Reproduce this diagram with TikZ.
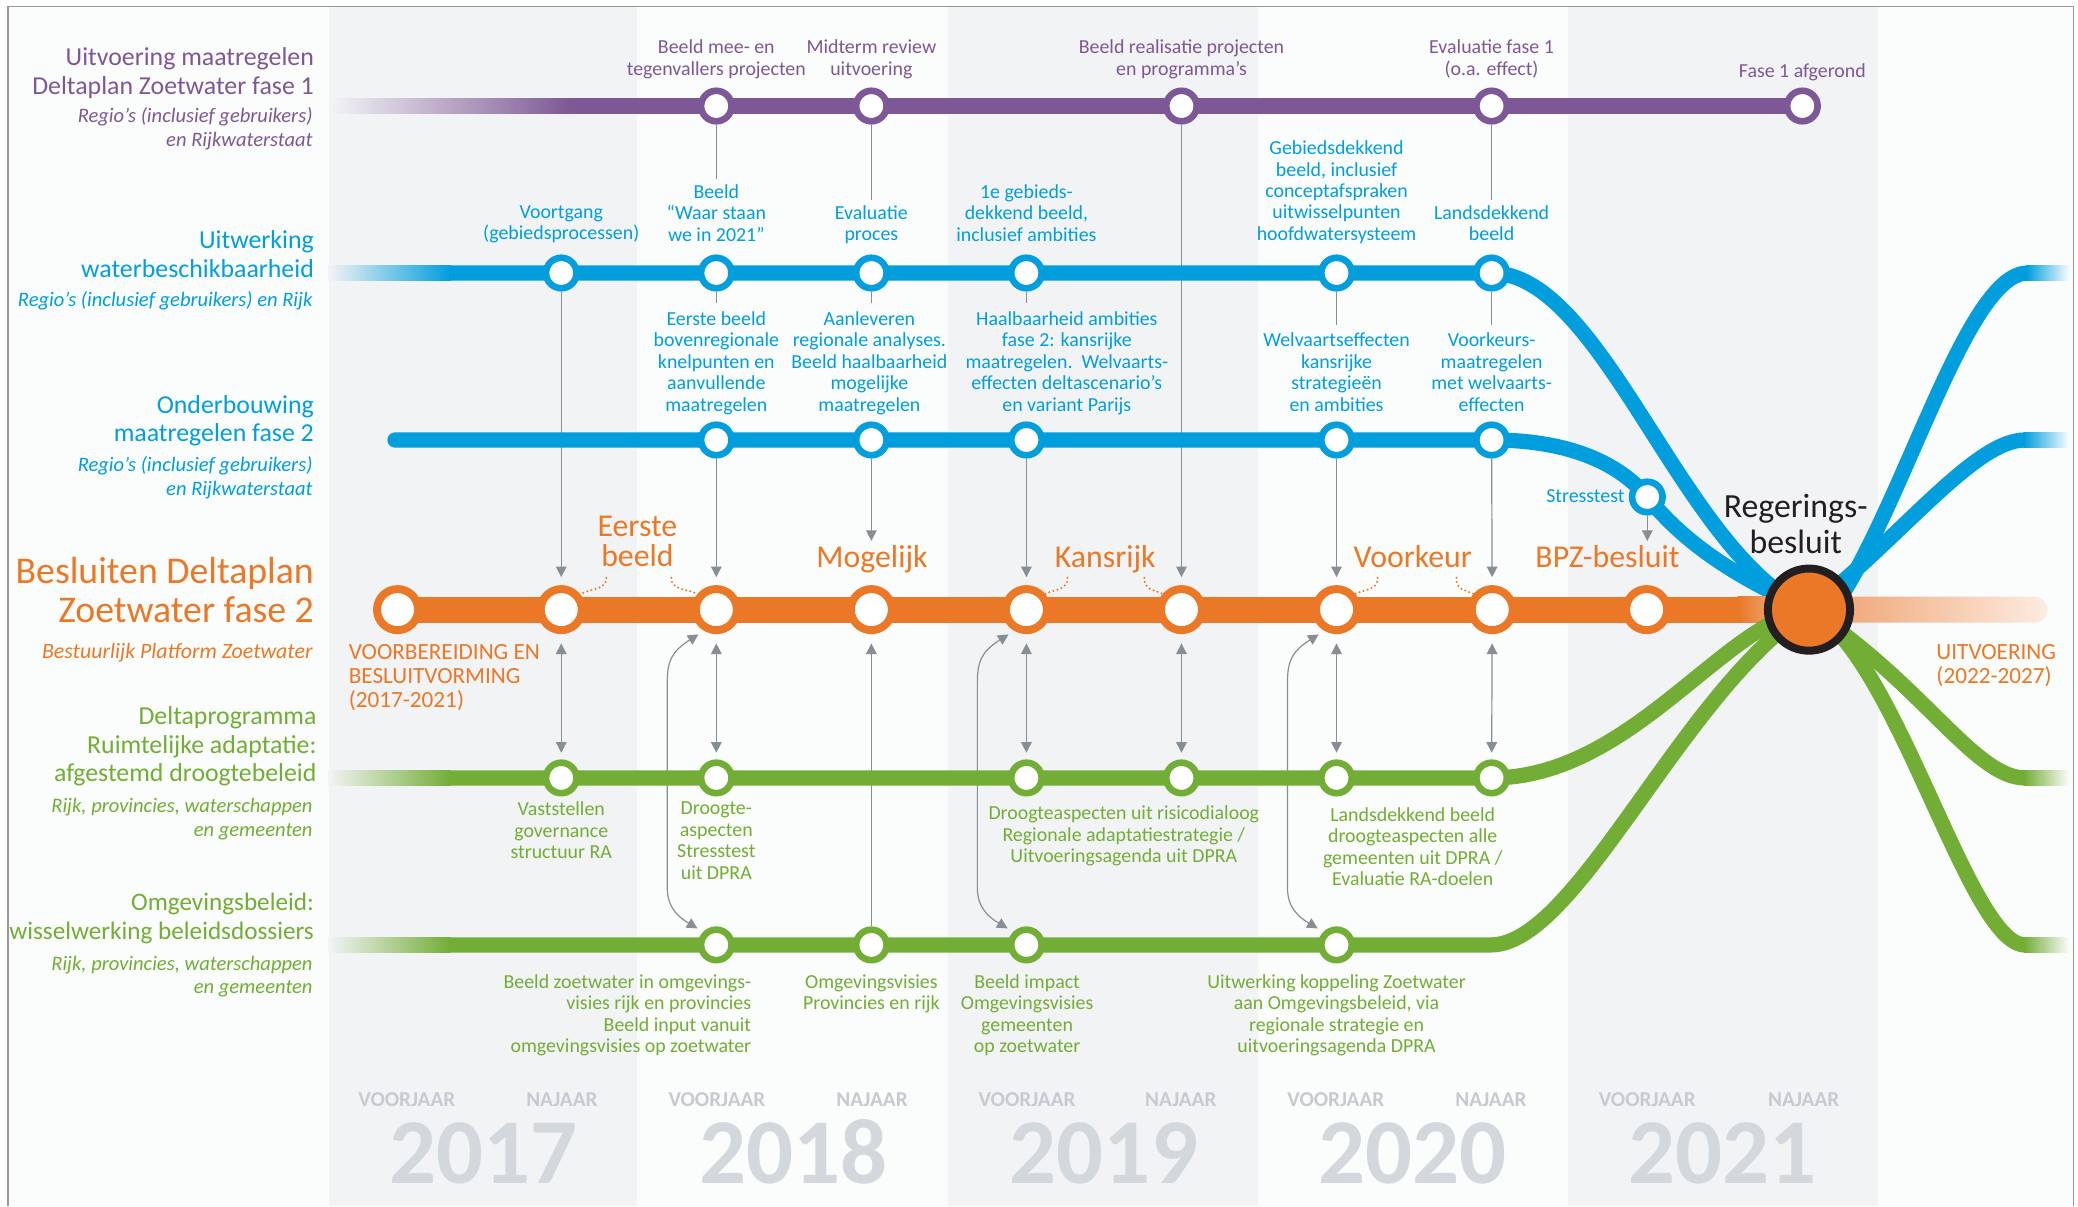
\documentclass[tikz,border=0pt]{standalone}
\usepackage{fontspec}
\setmainfont{Carlito}
\usepackage{tikz}
\usetikzlibrary{arrows.meta, calc, positioning}
\definecolor{dzpurple}{RGB}{126,88,150}
\definecolor{dzblue}{RGB}{0,158,220}
\definecolor{dzorange}{RGB}{234,120,38}
\definecolor{dzgreen}{RGB}{114,173,54}
\definecolor{dzgrey}{RGB}{135,142,148}
\definecolor{colgrey}{RGB}{242,243,245}
\definecolor{colwhite}{RGB}{251,252,252}
\definecolor{yeargrey}{RGB}{211,216,220}
\definecolor{halfgrey}{RGB}{197,203,208}
\definecolor{framegrey}{RGB}{150,152,154}
\definecolor{ink}{RGB}{35,31,32}
\definecolor{peach}{RGB}{240,166,118}
\definecolor{peachlight}{RGB}{252,236,225}
\pgfdeclarelayer{bg}
\pgfdeclarelayer{links}
\pgfdeclarelayer{rails}
\pgfsetlayers{bg,links,rails,main}

\begin{document}
\begin{tikzpicture}[x=1pt, y=-1pt,
  station/.style={circle, fill=white, line width=5pt, minimum size=23pt, inner sep=0pt},
  pst/.style={station, draw=dzpurple},
  bst/.style={station, draw=dzblue},
  gst/.style={station, draw=dzgreen},
  ost/.style={circle, fill=white, draw=dzorange, line width=6pt, minimum size=31pt, inner sep=0pt},
  rail/.style={line width=11.5pt},
  orail/.style={line width=19.5pt},
  link/.style={draw=dzgrey, line width=0.9pt},
  arr/.style={-{Triangle[width=8pt,length=8pt]}},
  twoway/.style={{Triangle[width=8pt,length=8pt]}-{Triangle[width=8pt,length=8pt]}},
  dotlink/.style={dzorange, line width=1.7pt, dash pattern=on 0pt off 3.2pt, line cap=round},
  lbl/.style={font=\fontsize{15}{16.2}\selectfont, align=center, inner sep=0pt, anchor=north},
  big/.style={font=\fontsize{24}{23}\selectfont, text=dzorange, inner sep=0pt},
  phase/.style={font=\fontsize{17.5}{18}\selectfont, text=dzorange, align=left, inner sep=0pt, anchor=north west},
  headline/.style={font=\fontsize{19.5}{21.5}\selectfont, align=right, inner sep=0pt, anchor=north east},
  subline/.style={font=\itshape\fontsize{15.5}{18}\selectfont, align=right, inner sep=0pt, anchor=north east},
  halfyear/.style={font=\bfseries\fontsize{16}{16}\selectfont, text=halfgrey, inner sep=0pt, anchor=base},
  yearnr/.style={font=\bfseries\fontsize{70}{70}\selectfont, text=yeargrey, inner sep=0pt, anchor=base}
]

\begin{pgfonlayer}{bg}
\fill[white] (0,0) rectangle (1568,910);
\fill[colwhite] (6,5) rectangle (1564.5,910);
\fill[colgrey] (248,5) rectangle (481,910);
\fill[colgrey] (715,5) rectangle (949,910);
\fill[colgrey] (1183,5) rectangle (1417,910);
\draw[framegrey, line width=1pt] (6,910) -- (6,5) -- (1564.5,5) -- (1564.5,910);
\end{pgfonlayer}

% stations
\node[pst] (p1) at (540.5,80) {};
\node[pst] (p2) at (657.5,80) {};
\node[pst] (p3) at (891.5,80) {};
\node[pst] (p4) at (1125.5,80) {};
\node[pst] (p5) at (1360,80) {};

\node[bst] (b1) at (423.5,206) {};
\node[bst] (b2) at (540.5,206) {};
\node[bst] (b3) at (657.5,206) {};
\node[bst] (b4) at (774.5,206) {};
\node[bst] (b5) at (1008.5,206) {};
\node[bst] (b6) at (1125.5,206) {};

\node[bst] (c1) at (540.5,332) {};
\node[bst] (c2) at (657.5,332) {};
\node[bst] (c3) at (774.5,332) {};
\node[bst] (c4) at (1008.5,332) {};
\node[bst] (c5) at (1125.5,332) {};
\node[bst] (st) at (1243,375) {};

\node[ost] (o0) at (300,460) {};
\node[ost] (o1) at (423.5,460) {};
\node[ost] (o2) at (540.5,460) {};
\node[ost] (o3) at (657.5,460) {};
\node[ost] (o4) at (774.5,460) {};
\node[ost] (o5) at (891.5,460) {};
\node[ost] (o6) at (1008.5,460) {};
\node[ost] (o7) at (1126,460) {};
\node[ost] (o8) at (1242.5,460) {};
\node[circle, fill=dzorange, draw=ink, line width=6pt, minimum size=62pt, inner sep=0pt] (rb) at (1365,460) {};

\node[gst] (g1) at (423.5,587) {};
\node[gst] (g2) at (540.5,587) {};
\node[gst] (g3) at (774.5,587) {};
\node[gst] (g4) at (891.5,587) {};
\node[gst] (g5) at (1008.5,587) {};
\node[gst] (g6) at (1125.5,587) {};

\node[gst] (h1) at (540.5,713) {};
\node[gst] (h2) at (657.5,713) {};
\node[gst] (h3) at (774.5,713) {};
\node[gst] (h4) at (1008.5,713) {};
\coordinate (hb) at (1125,713);
\coordinate (rx) at (1388,452);

% left headings
\node[headline, text=dzpurple] (hp) at (237,36) {Uitvoering maatregelen\\Deltaplan Zoetwater fase 1};
\node[subline, text=dzpurple] (sp) at (236,81) {Regio’s (inclusief gebruikers)\\en Rijkwaterstaat};
\node[headline, text=dzblue] (hbl) at (237,174) {Uitwerking\\waterbeschikbaarheid};
\node[subline, text=dzblue] (sbl) at (236,220) {Regio’s (inclusief gebruikers) en Rijk};
\node[headline, text=dzblue] (hc) at (237,298) {Onderbouwing\\maatregelen fase 2};
\node[subline, text=dzblue] (sc) at (236,344) {Regio’s (inclusief gebruikers)\\en Rijkwaterstaat};
\node[headline, font=\fontsize{28.5}{29.5}\selectfont, text=dzorange] (ho) at (237,420) {Besluiten Deltaplan\\Zoetwater fase 2};
\node[subline, font=\itshape\fontsize{16.5}{18}\selectfont, text=dzorange] (so) at (236,485) {Bestuurlijk Platform Zoetwater};
\node[headline, text=dzgreen] (hg) at (239,533) {Deltaprogramma\\Ruimtelijke adaptatie:\\afgestemd droogtebeleid};
\node[subline, text=dzgreen] (sg) at (236,602) {Rijk, provincies, waterschappen\\en gemeenten};
\node[headline, font=\fontsize{19}{21.5}\selectfont, text=dzgreen] (hh) at (237,674) {Omgevingsbeleid:\\wisselwerking beleidsdossiers};
\node[subline, text=dzgreen] (sh) at (236,721) {Rijk, provincies, waterschappen\\en gemeenten};

% labels purple line
\node[lbl, text=dzpurple] (ta1) at (540.5,30) {Beeld mee- en\\tegenvallers projecten};
\node[lbl, text=dzpurple] (ta2) at (657.5,30) {Midterm review\\uitvoering};
\node[lbl, text=dzpurple] (ta3) at (891.5,30) {Beeld realisatie projecten\\en programma’s};
\node[lbl, text=dzpurple] (ta4) at (1125.5,30) {Evaluatie fase 1\\(o.a. effect)};
\node[lbl, text=dzpurple] (ta5) at (1360,48) {Fase 1 afgerond};

% labels blue lines
\node[lbl, text=dzblue] (tb1) at (423.5,155) {Voortgang\\(gebiedsprocessen)};
\node[lbl, text=dzblue] (tb2) at (540.5,139) {Beeld\\“Waar staan\\we in 2021”};
\node[lbl, text=dzblue] (tb3) at (657.5,155) {Evaluatie\\proces};
\node[lbl, text=dzblue] (tb4) at (774.5,139) {1e gebieds-\\dekkend beeld,\\inclusief ambities};
\node[lbl, text=dzblue] (tb5) at (1008.5,106) {Gebiedsdekkend\\beeld, inclusief\\conceptafspraken\\uitwisselpunten\\hoofdwatersysteem};
\node[lbl, text=dzblue] (tb6) at (1125.5,155) {Landsdekkend\\beeld};

\node[lbl, text=dzblue] (tc1) at (540.5,235) {Eerste beeld\\bovenregionale\\knelpunten en\\aanvullende\\maatregelen};
\node[lbl, text=dzblue] (tc2) at (656,235) {Aanleveren\\regionale analyses.\\Beeld haalbaarheid\\mogelijke\\maatregelen};
\node[lbl, text=dzblue] (tc3) at (805,235) {Haalbaarheid ambities\\fase 2: kansrijke\\maatregelen.\ \ Welvaarts-\\effecten deltascenario’s\\en variant Parijs};
\node[lbl, text=dzblue] (tc4) at (1008.5,251) {Welvaartseffecten\\kansrijke\\strategieën\\en ambities};
\node[lbl, text=dzblue] (tc5) at (1125.5,251) {Voorkeurs-\\maatregelen\\met welvaarts-\\effecten};
\node[lbl, text=dzblue, anchor=base east] (tst) at (1226,379) {Stresstest};

% labels orange line
\node[big, align=center, anchor=south] (eb) at (481,428) {Eerste\\beeld};
\node[big, anchor=base] (mg) at (658,428) {Mogelijk};
\node[big, anchor=base] (ks) at (834,428) {Kansrijk};
\node[big, anchor=base] (vk) at (1066,428) {Voorkeur};
\node[big, anchor=base] (bpz) at (1213,428) {BPZ-besluit};
\node[font=\fontsize{25.5}{27}\selectfont, text=ink, align=center, inner sep=0pt, anchor=south] (rbt) at (1355,418) {Regerings-\\besluit};
\node[phase] (vb) at (263,486) {VOORBEREIDING EN\\BESLUITVORMING\\(2017-2021)};
\node[phase] (uv) at (1461,486) {UITVOERING\\(2022-2027)};

% labels green lines
\node[lbl, text=dzgreen] (td1) at (423.5,605) {Vaststellen\\governance\\structuur RA};
\node[lbl, text=dzgreen] (td2) at (540.5,605) {Droogte-\\aspecten\\Stresstest\\uit DPRA};
\node[lbl, text=dzgreen] (td3) at (848,608) {Droogteaspecten uit risicodialoog\\Regionale adaptatiestrategie /\\Uitvoeringsagenda uit DPRA};
\node[lbl, text=dzgreen] (td4) at (1066,609) {Landsdekkend beeld\\droogteaspecten alle\\gemeenten uit DPRA /\\Evaluatie RA-doelen};

\node[lbl, text=dzgreen, align=right, anchor=north east] (te1) at (567,735) {Beeld zoetwater in omgevings-\\visies rijk en provincies\\Beeld input vanuit\\omgevingsvisies op zoetwater};
\node[lbl, text=dzgreen] (te2) at (657.5,735) {Omgevingsvisies\\Provincies en rijk};
\node[lbl, text=dzgreen] (te3) at (775,735) {Beeld impact\\Omgevingsvisies\\gemeenten\\op zoetwater};
\node[lbl, text=dzgreen] (te4) at (1008.5,735) {Uitwerking koppeling Zoetwater\\aan Omgevingsbeleid, via\\regionale strategie en\\uitvoeringsagenda DPRA};

% years
\node[halfyear] (v17) at (307,835) {VOORJAAR};
\node[halfyear] (n17) at (424,835) {NAJAAR};
\node[yearnr] (y17) at (365,893) {2017};
\node[halfyear] (v18) at (541,835) {VOORJAAR};
\node[halfyear] (n18) at (658,835) {NAJAAR};
\node[yearnr] (y18) at (599,893) {2018};
\node[halfyear] (v19) at (775,835) {VOORJAAR};
\node[halfyear] (n19) at (891,835) {NAJAAR};
\node[yearnr] (y19) at (833,893) {2019};
\node[halfyear] (v20) at (1008,835) {VOORJAAR};
\node[halfyear] (n20) at (1125,835) {NAJAAR};
\node[yearnr] (y20) at (1066,893) {2020};
\node[halfyear] (v21) at (1243,835) {VOORJAAR};
\node[halfyear] (n21) at (1361,835) {NAJAAR};
\node[yearnr] (y21) at (1300,893) {2021};

% rails
\begin{pgfonlayer}{rails}
\shade[left color=colgrey, right color=dzpurple] (250,74.25) rectangle (430,85.75);
\draw[rail, dzpurple] (429,80) -- (p5.center);

\shade[left color=colgrey, right color=dzblue] (248,200.25) rectangle (340,211.75);
\draw[rail, dzblue] (339,206) -- (b6.center) .. controls (1210,206) and (1270,420) .. (rb.center);
\draw[rail, dzblue, line cap=round] (298,332) -- (c5.center) .. controls (1185,332) and (1222,350) .. (st.center) .. controls (1275,415) and (1320,440) .. (rb.center);

\draw[orail, dzorange] (o0.center) -- (1312,460);
\shade[left color=dzorange, right color=peach] (1311,450.25) rectangle (1340,469.75);
\shade[left color=peach, right color=peachlight, rounded corners=9.75pt] (1385,450.25) rectangle (1545,469.75);

\shade[left color=colgrey, right color=dzgreen] (248,581.25) rectangle (340,592.75);
\draw[rail, dzgreen] (339,587) -- (g6.center) .. controls (1230,587) and (1300,470) .. (rb.center);
\shade[left color=colgrey, right color=dzgreen] (248,707.25) rectangle (340,718.75);
\draw[rail, dzgreen] (339,713) -- (h4.center) -- (hb) .. controls (1190,713) and (1270,520) .. (rb.center);

\draw[rail, dzblue] (rb.center) -- (rx) .. controls (1440,370) and (1485,206) .. (1530,206);
\shade[left color=dzblue, right color=white] (1529,200.25) rectangle (1562,211.75);
\draw[rail, dzblue] (rb.center) .. controls (1435,405) and (1490,332) .. (1528,332);
\shade[left color=dzblue, right color=white] (1527,326.25) rectangle (1562,337.75);
\draw[rail, dzgreen] (rb.center) .. controls (1450,515) and (1490,587) .. (1528,587);
\shade[left color=dzgreen, right color=white] (1527,581.25) rectangle (1562,592.75);
\draw[rail, dzgreen] (rb.center) .. controls (1430,490) and (1485,713) .. (1528,713);
\shade[left color=dzgreen, right color=white] (1527,707.25) rectangle (1562,718.75);
\end{pgfonlayer}

% connectors
\begin{pgfonlayer}{links}
\draw[link, shorten >=4pt] (p1) -- (p1 |- tb2.north);
\draw[link, shorten >=4pt] (p2) -- (p2 |- tb3.north);
\draw[link, arr, shorten >=6pt] (p3) -- (o5);
\draw[link, shorten >=4pt] (p4) -- (p4 |- tb6.north);

\draw[link, arr, shorten >=6pt] (b1) -- (o1);
\draw[link, shorten >=6pt] (b2) -- (b2 |- tc1.north);
\draw[link, shorten >=6pt] (b3) -- (b3 |- tc2.north);
\draw[link, shorten >=6pt] (b4) -- (b4 |- tc3.north);
\draw[link, shorten >=6pt] (b5) -- (b5 |- tc4.north);
\draw[link, shorten >=6pt] (b6) -- (b6 |- tc5.north);

\draw[link, arr, shorten >=6pt] (c1) -- (o2);
\draw[link, arr, shorten >=3pt] (c2) -- (c2 |- mg.north);
\draw[link, arr, shorten >=6pt] (c3) -- (o4);
\draw[link, arr, shorten >=6pt] (c4) -- (o6);
\draw[link, arr, shorten >=6pt] (c5) -- (o7);
\draw[link, arr, shorten >=3pt] (st) -- (st |- bpz.north);

\draw[link, twoway, shorten <=7pt, shorten >=5pt] (o1) -- (g1);
\draw[link, twoway, shorten <=7pt, shorten >=5pt] (o2) -- (g2);
\draw[link, twoway, shorten <=7pt, shorten >=5pt] (o4) -- (g3);
\draw[link, twoway, shorten <=7pt, shorten >=5pt] (o5) -- (g4);
\draw[link, twoway, shorten <=7pt, shorten >=5pt] (o6) -- (g5);
\draw[link, twoway, shorten <=7pt, shorten >=5pt] (o7) -- (g6);
\draw[link, arr, shorten >=7pt] (h2) -- (o3);

\draw[link, twoway, shorten <=5pt, shorten >=5pt] (o2.240) .. controls (506,492) and (503.5,500) .. (503.5,515) -- (503.5,670) .. controls (503.5,685) and (512,692) .. (h1.135);
\draw[link, twoway, shorten <=5pt, shorten >=5pt] (o4.240) .. controls (740,492) and (737.5,500) .. (737.5,515) -- (737.5,670) .. controls (737.5,685) and (746,692) .. (h3.135);
\draw[link, twoway, shorten <=5pt, shorten >=5pt] (o6.240) .. controls (974,492) and (971.5,500) .. (971.5,515) -- (971.5,670) .. controls (971.5,685) and (980,692) .. (h4.135);
\end{pgfonlayer}

\draw[dotlink] ($(o1)+(34,-24)$) .. controls +(0,9) and +(9,-4) .. (o1.40);
\draw[dotlink] ($(o2)+(-34,-24)$) .. controls +(0,9) and +(-9,-4) .. (o2.140);
\draw[dotlink] ($(o4)+(31,-24)$) .. controls +(0,9) and +(9,-4) .. (o4.40);
\draw[dotlink] ($(o5)+(-28,-24)$) .. controls +(0,9) and +(-9,-4) .. (o5.140);
\draw[dotlink] ($(o6)+(31,-24)$) .. controls +(0,9) and +(9,-4) .. (o6.40);
\draw[dotlink] ($(o7)+(-27,-24)$) .. controls +(0,9) and +(-9,-4) .. (o7.140);

\end{tikzpicture}
\end{document}
